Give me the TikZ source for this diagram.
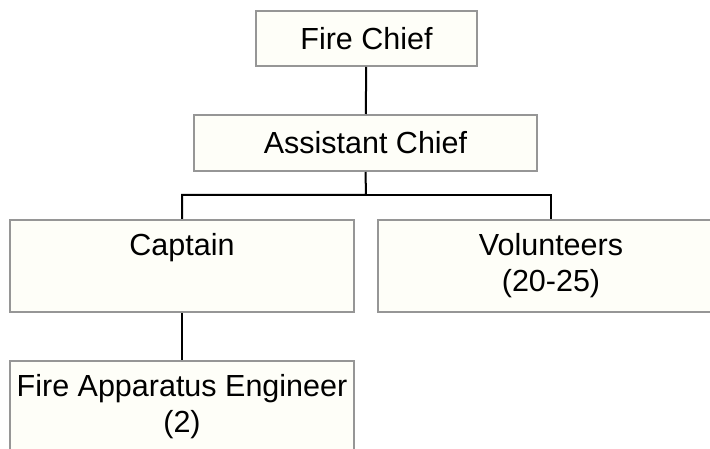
\documentclass[tikz,border=0pt]{standalone}
\usepackage{fontspec}
\setmainfont{Liberation Sans}

\definecolor{boxfill}{RGB}{254,254,248}
\definecolor{boxline}{RGB}{150,150,150}

\tikzset{
    post/.style={draw=boxline, line width=2bp, fill=boxfill, align=center,
        inner sep=0bp, font=\fontsize{30.5bp}{36bp}\selectfont},
    link/.style={draw=black, line width=2bp}
}

\begin{document}
\begin{tikzpicture}[x=1bp, y=-1bp]
    % Fix the page to the size of the chart
    \useasboundingbox (0, 0) rectangle (710, 449);
    \clip (0, 0) rectangle (710, 449);

    % Top of the chain
    \node[post, minimum width=221bp, minimum height=55bp] (chief) at (366.5, 38.5) {Fire Chief};
    \node[post, minimum width=343bp, minimum height=56bp] (asst) at (365.5, 143) {Assistant Chief};

    % Second row
    \node[post, minimum width=344bp, minimum height=92bp] (captain) at (182, 266) {Captain\strut\\\strut};
    \node[post, minimum width=346bp, minimum height=92bp] (vols) at (551, 266) {Volunteers\strut\\(20-25)\strut};

    % Below the captain
    \node[post, minimum width=344bp, minimum height=92bp] (engineer) at (182, 407) {Fire Apparatus Engineer\strut\\(2)\strut};

    % Connectors
    \coordinate (bus) at (366, 195);
    \draw[link] (chief) -- (asst);
    \draw[link] (asst.south) -- (bus) -| (captain.north);
    \draw[link] (bus) -| (vols.north);
    \draw[link] (captain) -- (engineer);
\end{tikzpicture}
\end{document}
